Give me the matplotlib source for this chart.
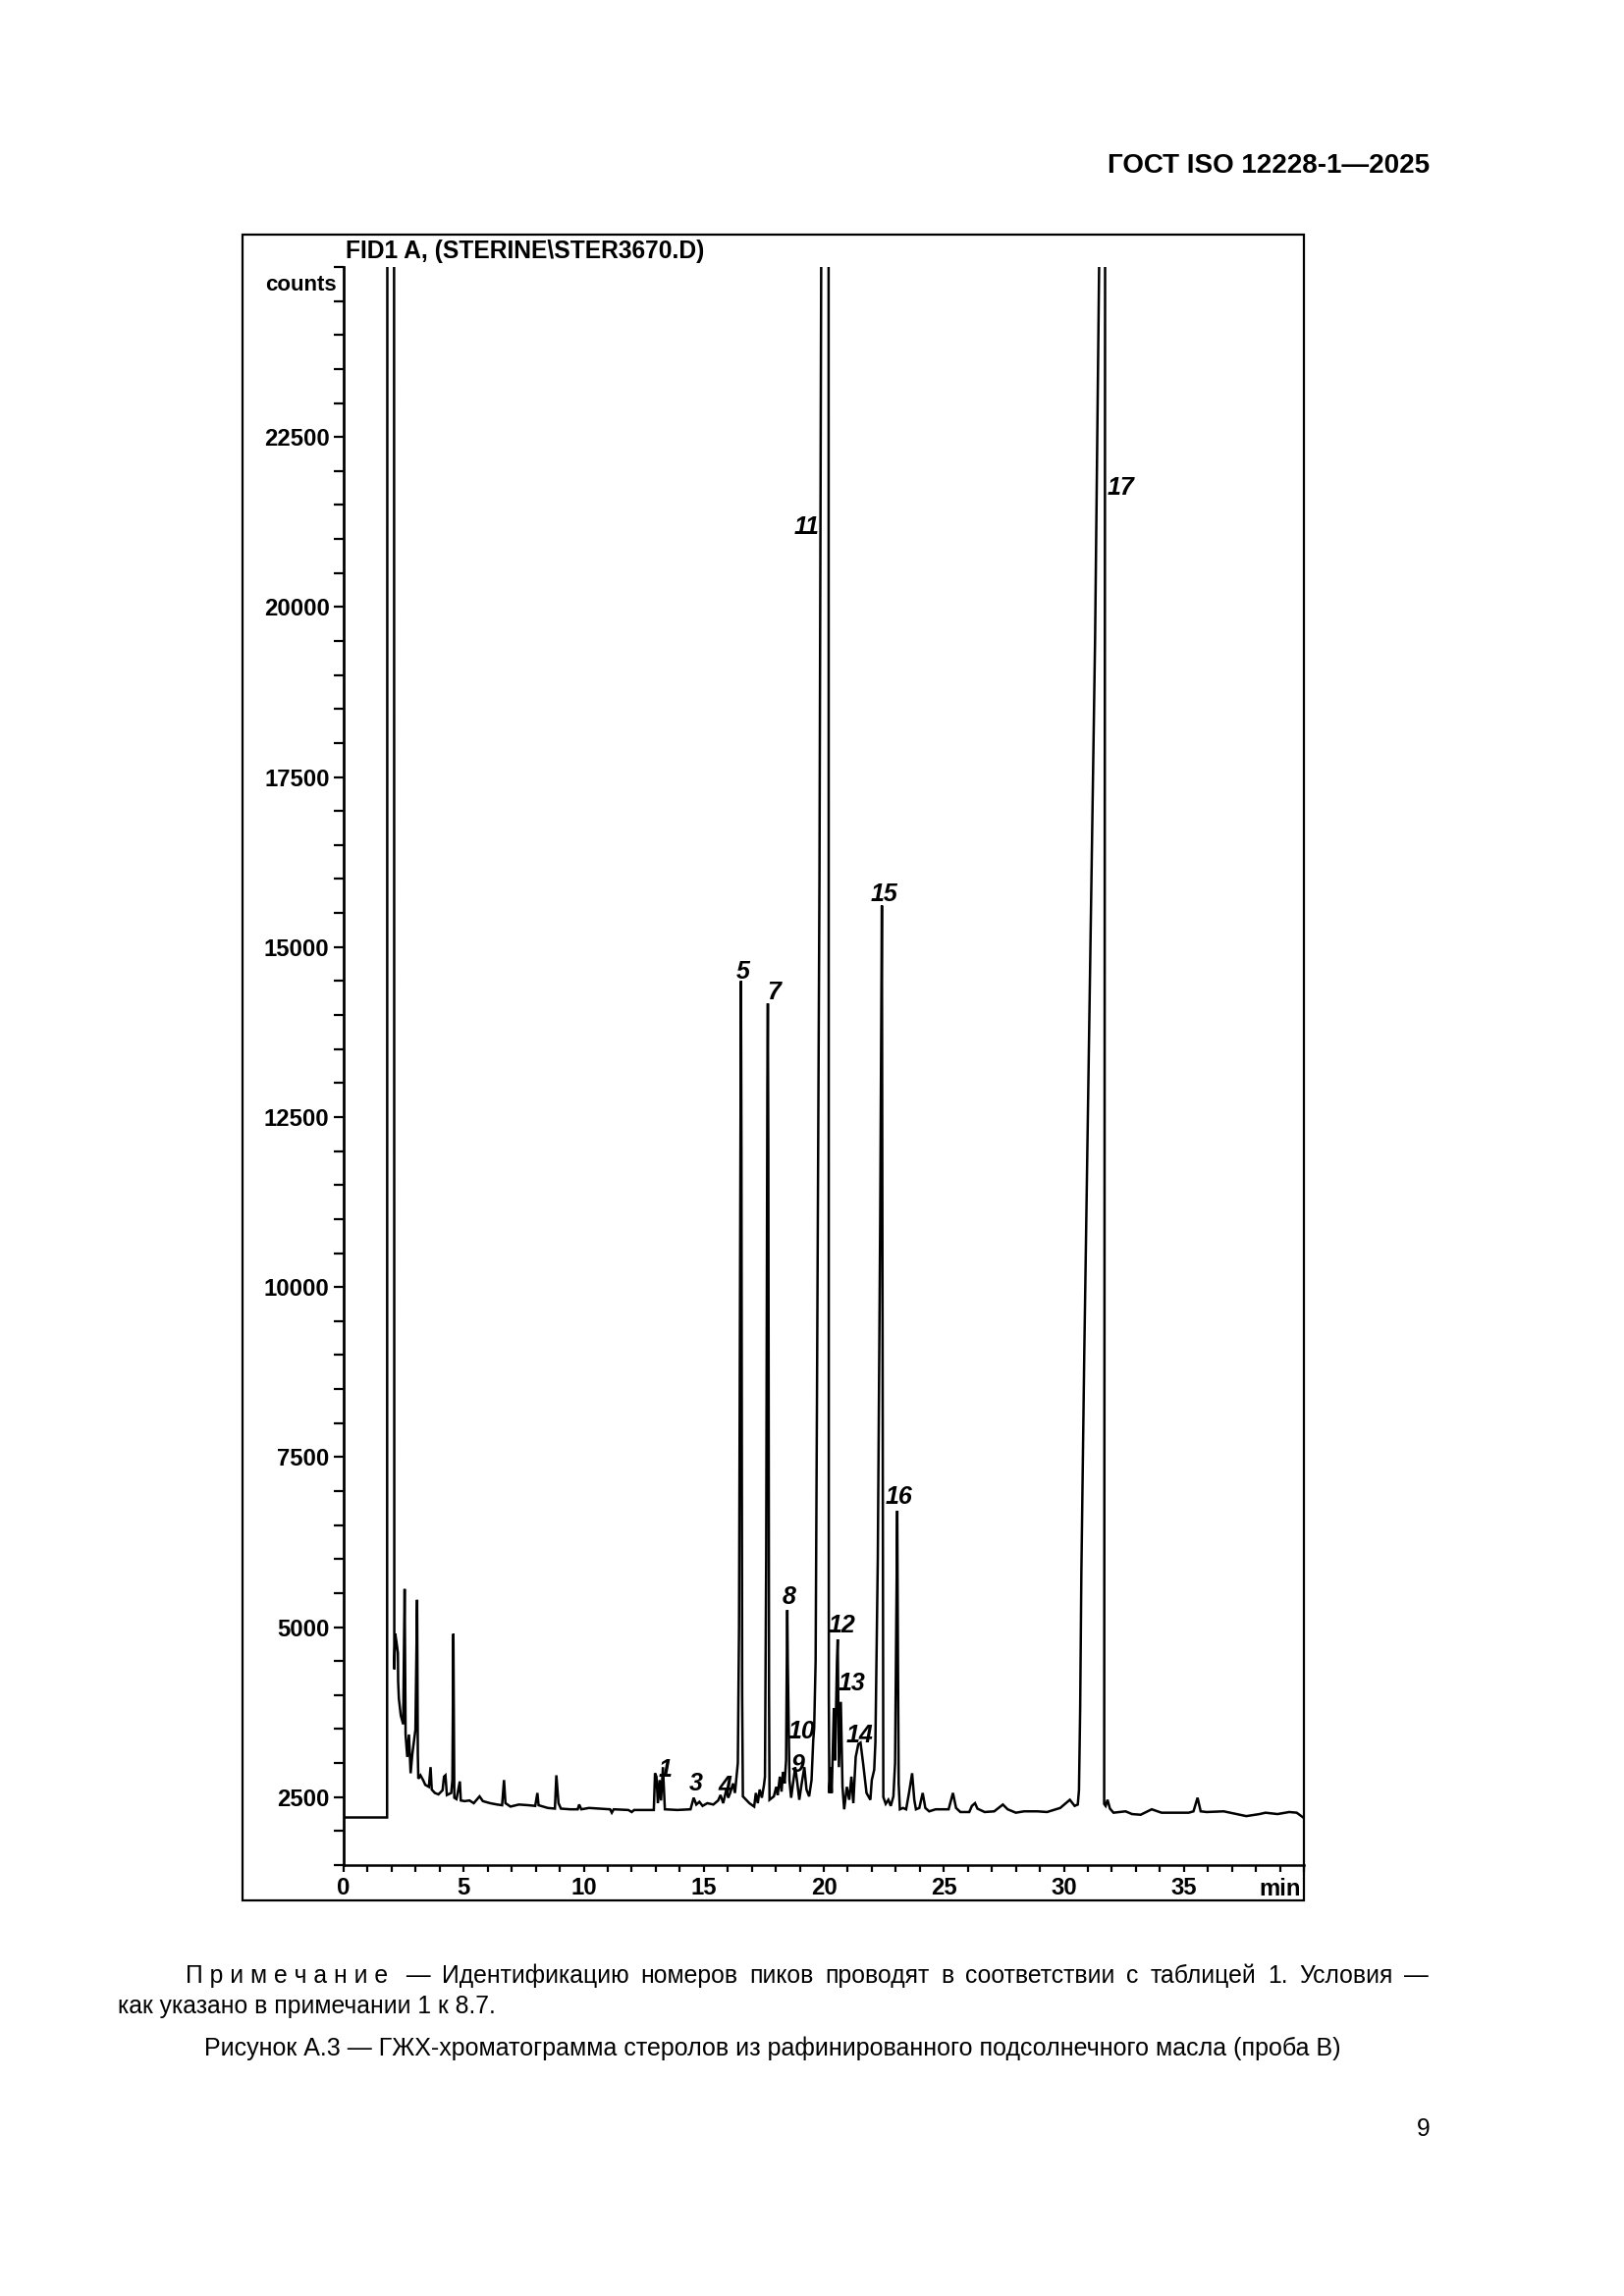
import matplotlib
matplotlib.use("Agg")
import matplotlib.pyplot as plt
from matplotlib.ticker import MultipleLocator
from matplotlib.patches import Rectangle

plt.rcParams['font.family'] = ['Liberation Sans', 'DejaVu Sans']

# chromatogram trace: retention time (min) / detector counts
# (values above 25000 are off-scale, the peaks are clipped at the top of the axis)
time_min = [
    0.0, 1.81, 1.82, 2.10, 2.11, 2.15, 2.20, 2.26, 2.27, 2.30, 2.38, 2.48,
    2.54, 2.58, 2.65, 2.72, 2.79, 2.86, 2.99, 3.06, 3.09, 3.11, 3.20, 3.31,
    3.40, 3.55, 3.62, 3.67, 3.80, 3.95, 4.12, 4.18, 4.24, 4.30, 4.48, 4.53,
    4.57, 4.61, 4.70, 4.84, 4.88, 5.04, 5.24, 5.42, 5.66, 5.80, 6.10, 6.40,
    6.60, 6.68, 6.74, 6.95, 7.30, 7.70, 7.98, 8.07, 8.12, 8.50, 8.80, 8.86,
    8.95, 9.05, 9.45, 9.75, 9.81, 9.90, 10.22, 10.63, 11.10, 11.17, 11.25, 11.86,
    12.00, 12.10, 12.92, 12.97, 13.03, 13.09, 13.16, 13.22, 13.30, 13.38, 13.90, 14.45,
    14.58, 14.69, 14.82, 14.95, 15.15, 15.40, 15.60, 15.70, 15.81, 15.94, 16.02, 16.10,
    16.22, 16.30, 16.38, 16.42, 16.47, 16.53, 16.55, 16.57, 16.60, 16.63, 16.90, 17.10,
    17.17, 17.25, 17.33, 17.42, 17.51, 17.55, 17.60, 17.65, 17.67, 17.69, 17.72, 17.74,
    17.92, 18.02, 18.08, 18.17, 18.24, 18.30, 18.37, 18.43, 18.46, 18.48, 18.50, 18.53,
    18.57, 18.64, 18.74, 18.81, 18.90, 18.98, 19.08, 19.19, 19.28, 19.39, 19.49, 19.56,
    19.60, 19.66, 19.72, 19.82, 19.90, 20.20, 20.21, 20.23, 20.28, 20.33, 20.42, 20.47,
    20.55, 20.58, 20.63, 20.71, 20.78, 20.85, 20.96, 21.06, 21.15, 21.23, 21.33, 21.44,
    21.53, 21.64, 21.78, 21.94, 22.00, 22.10, 22.15, 22.25, 22.35, 22.42, 22.45, 22.48,
    22.58, 22.69, 22.79, 22.90, 22.97, 23.02, 23.06, 23.09, 23.12, 23.17, 23.30, 23.43,
    23.55, 23.68, 23.77, 23.84, 23.98, 24.12, 24.23, 24.39, 24.66, 25.20, 25.38, 25.51,
    25.69, 26.06, 26.17, 26.30, 26.40, 26.70, 27.10, 27.46, 27.66, 28.00, 28.34, 28.90,
    29.30, 29.85, 30.25, 30.45, 30.58, 30.63, 30.68, 30.73, 30.85, 31.00, 31.15, 31.30,
    31.50, 31.72, 31.68, 31.74, 31.82, 31.92, 32.07, 32.57, 32.84, 33.20, 33.66, 34.07,
    34.40, 35.20, 35.40, 35.57, 35.70, 35.95, 36.66, 37.07, 37.60, 38.15, 38.40, 38.90,
    39.39, 39.70, 39.97,
]
counts = [
    2200, 2200, 26000, 26000, 4380, 4900, 4780, 4620, 4200, 3950, 3700, 3570,
    5560, 3420, 3090, 3420, 2850, 3130, 3490, 5400, 3130, 2770, 2820, 2750,
    2680, 2650, 2940, 2610, 2560, 2540, 2600, 2800, 2820, 2530, 2560, 2750,
    4900, 2490, 2470, 2730, 2450, 2440, 2450, 2410, 2510, 2440, 2410, 2390,
    2380, 2750, 2410, 2360, 2390, 2380, 2370, 2560, 2380, 2340, 2330, 2820,
    2410, 2330, 2320, 2320, 2390, 2320, 2340, 2330, 2320, 2270, 2320, 2310,
    2280, 2310, 2310, 2850, 2800, 2410, 2750, 2450, 2940, 2320, 2310, 2320,
    2490, 2390, 2430, 2370, 2410, 2390, 2450, 2530, 2410, 2610, 2490, 2560,
    2700, 2560, 2850, 3000, 5000, 12000, 14500, 12000, 4000, 2510, 2410, 2360,
    2560, 2410, 2610, 2490, 2680, 2800, 6000, 13000, 14170, 12000, 4000, 2460,
    2510, 2650, 2530, 2800, 2580, 2870, 2700, 3040, 4500, 5250, 4500, 3710,
    2750, 2490, 2750, 2940, 2700, 2460, 2700, 2940, 2610, 2510, 2750, 3330,
    3520, 4500, 8600, 16000, 26000, 26000, 4000, 2560, 2940, 2560, 3810, 3040,
    4500, 4820, 2940, 3900, 2650, 2320, 2650, 2460, 2800, 2410, 3090, 3280,
    3300, 2990, 2560, 2460, 2750, 2900, 3300, 6000, 11000, 15610, 9000, 2500,
    2400, 2460, 2370, 2510, 3000, 5000, 6710, 4500, 2700, 2320, 2340, 2320,
    2560, 2850, 2460, 2320, 2340, 2560, 2340, 2290, 2320, 2320, 2560, 2340,
    2280, 2280, 2370, 2410, 2330, 2280, 2290, 2390, 2320, 2270, 2290, 2290,
    2280, 2340, 2460, 2370, 2390, 2600, 3800, 5800, 9000, 12500, 16000, 19500,
    26000, 26000, 2400, 2370, 2460, 2330, 2270, 2290, 2250, 2240, 2320, 2270,
    2270, 2270, 2290, 2490, 2290, 2280, 2290, 2260, 2220, 2250, 2270, 2250,
    2280, 2270, 2200,
]

# peak numbers and where their labels sit (min, counts)
peak_ids = ['1', '3', '4', '5', '7', '8', '9', '10', '11', '12', '13', '14', '15', '16', '17']
peak_lab_x = [13.38, 14.68, 15.90, 16.65, 17.92, 18.57, 18.92, 19.08, 19.29, 20.74, 21.15, 21.50, 22.51, 23.14, 32.37]
peak_lab_y = [2900, 2700, 2650, 14630, 14330, 5440, 2970, 3470, 21180, 5020, 4170, 3410, 15780, 6910, 21750]

y_ticks = [2500, 5000, 7500, 10000, 12500, 15000, 17500, 20000, 22500]
x_ticks = [0, 5, 10, 15, 20, 25, 30, 35]

W, H = 1654, 2339
fig = plt.figure(figsize=(W / 200, H / 200), dpi=200)
ax = fig.add_axes([350 / W, 1 - 1900 / H, (1328 - 350) / W, (1900 - 272) / H])

ax.plot(time_min, counts, color='black', lw=0.9, solid_joinstyle='miter')
ax.set_xlim(0, 40)
ax.set_ylim(1500, 25000)

for s in ['top', 'right']:
    ax.spines[s].set_visible(False)
ax.spines['left'].set_linewidth(1.0)
ax.spines['bottom'].set_linewidth(0.9)

ax.set_yticks(y_ticks, [str(v) for v in y_ticks], fontweight='bold', fontsize=8.6)
ax.set_xticks(x_ticks, [str(v) for v in x_ticks], fontweight='bold', fontsize=8.6)
ax.yaxis.set_minor_locator(MultipleLocator(500))
ax.xaxis.set_minor_locator(MultipleLocator(1))
ax.tick_params(axis='y', which='both', direction='out', length=3.6, width=0.8, pad=1.6)
ax.tick_params(axis='x', which='both', direction='out', length=2.5, width=0.8, pad=1.8)

for lab, px, py in zip(peak_ids, peak_lab_x, peak_lab_y):
    ax.text(px, py, lab, ha='center', va='center', fontsize=9,
            fontweight='bold', fontstyle='italic')

# axis annotations
fig.text(1325 / W, 1 - 1931 / H, 'min', ha='right', va='baseline', fontsize=8.6, fontweight='bold')
fig.text(343 / W, 1 - 296 / H, 'counts', ha='right', va='baseline', fontsize=8, fontweight='bold')
fig.text(352 / W, 1 - 263 / H, 'FID1 A, (STERINE\\STER3670.D)', ha='left', va='baseline',
         fontsize=8.85, fontweight='bold')

# frame around the chart
fig.add_artist(Rectangle((247 / W, 1 - 1936 / H), (1328 - 247) / W, (1936 - 239) / H,
                         transform=fig.transFigure, fill=False, lw=0.8, color='black'))

# page texts
fig.text(1456 / W, 1 - 176 / H, 'ГОСТ ISO 12228-1—2025', ha='right', va='baseline',
         fontsize=10, fontweight='bold')

renderer = fig.canvas.get_renderer()


def fit(t, target):
    w = t.get_window_extent(renderer).width
    t.set_fontsize(t.get_fontsize() * target / w)


line2 = fig.text(120 / W, 1 - 2051 / H, 'как указано в примечании 1 к 8.7.', ha='left',
                 va='baseline', fontsize=9)
fit(line2, 386)
note_size = line2.get_fontsize()

words = ['П р и м е ч а н и е', ' —', 'Идентификацию', 'номеров', 'пиков', 'проводят', 'в',
         'соответствии', 'с', 'таблицей', '1.', 'Условия', '—']
tw = [fig.text(0, 1 - 2020 / H, w, ha='left', va='baseline', fontsize=note_size) for w in words]
widths = [t.get_window_extent(renderer).width for t in tw]
gap = (1455 - 189 - sum(widths)) / (len(words) - 1)
x = 189
for t, w in zip(tw, widths):
    t.set_x(x / W)
    x += w + gap

cap = fig.text(787 / W, 1 - 2094 / H,
               'Рисунок А.3 — ГЖХ-хроматограмма стеролов из рафинированного подсолнечного масла (проба В)',
               ha='center', va='baseline', fontsize=10)
fit(cap, 1157)

fig.text(1456 / W, 1 - 2176 / H, '9', ha='right', va='baseline', fontsize=note_size)

fig.savefig('out.png', dpi=200)
